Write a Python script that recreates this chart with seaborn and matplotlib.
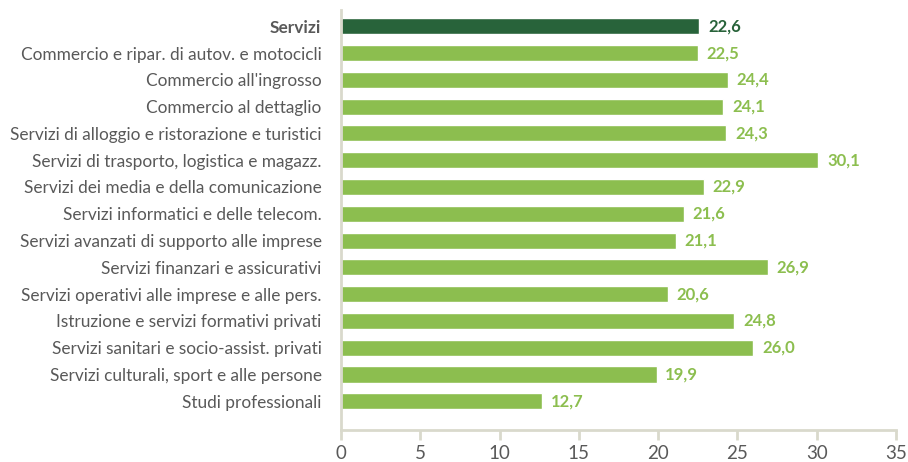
import matplotlib
matplotlib.use("Agg")
import matplotlib.pyplot as plt
import seaborn as sns
import pandas as pd

settori = [
    "Servizi",
    "Commercio e ripar. di autov. e motocicli",
    "Commercio all'ingrosso",
    "Commercio al dettaglio",
    "Servizi di alloggio e ristorazione e turistici",
    "Servizi di trasporto, logistica e magazz.",
    "Servizi dei media e della comunicazione",
    "Servizi informatici e delle telecom.",
    "Servizi avanzati di supporto alle imprese",
    "Servizi finanzari e assicurativi",
    "Servizi operativi alle imprese e alle pers.",
    "Istruzione e servizi formativi privati",
    "Servizi sanitari e socio-assist. privati",
    "Servizi culturali, sport e alle persone",
    "Studi professionali",
]
valori = [22.6, 22.5, 24.4, 24.1, 24.3, 30.1, 22.9, 21.6, 21.1, 26.9, 20.6, 24.8, 26.0, 19.9, 12.7]

verde_scuro = "#28633a"
verde_chiaro = "#8cbe4f"
grigio = "#595959"
assi = "#d9d9cc"

df = pd.DataFrame({"settore": settori, "valore": valori})
colori = [verde_scuro] + [verde_chiaro] * (len(settori) - 1)

sns.set_style("white")
plt.rcParams["font.family"] = ["Lato", "DejaVu Sans"]

fig = plt.figure(figsize=(9.08, 4.62), dpi=100)
ax = fig.add_axes([0.3755, 0.0693, 0.6113, 0.9087])

sns.barplot(data=df, x="valore", y="settore", hue="settore", palette=colori,
            legend=False, width=0.6, ax=ax, saturation=1)

for i, v in enumerate(valori):
    ax.text(v + 0.55, i, f"{v:.1f}".replace(".", ","), va="center", ha="left",
            fontsize=12, fontweight="bold", color=colori[i])

ax.set_xlim(0, 35)
ax.set_ylim(15.07, -0.6)
ax.set_xticks(range(0, 36, 5))
ax.set_xlabel("")
ax.set_ylabel("")

for s in ["top", "right"]:
    ax.spines[s].set_visible(False)
for s in ["left", "bottom"]:
    ax.spines[s].set_color(assi)
    ax.spines[s].set_linewidth(2)

ax.tick_params(axis="x", length=7, width=2, color=assi, labelsize=13.5, labelcolor=grigio, pad=4, bottom=True)
ax.tick_params(axis="y", length=0, labelsize=12.4, labelcolor=grigio, pad=14)
for lab in ax.get_yticklabels():
    if lab.get_text() == "Servizi":
        lab.set_fontweight("bold")

fig.savefig("out.png", dpi=100)
